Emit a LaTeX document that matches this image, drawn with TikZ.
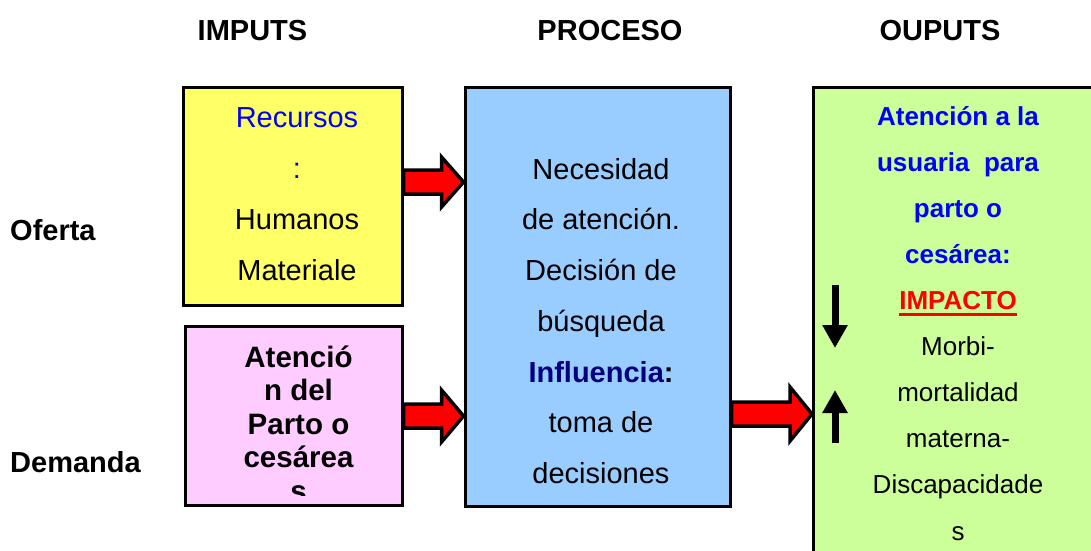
\documentclass[tikz,border=0pt]{standalone}
\usepackage{fontspec}
\setmainfont{Liberation Sans}
\usetikzlibrary{positioning, calc, arrows.meta}
\definecolor{amarillo}{HTML}{FFFF66}
\definecolor{rosa}{HTML}{FFCCFF}
\definecolor{celeste}{HTML}{99CCFF}
\definecolor{verde}{HTML}{CCFF99}
\definecolor{azul}{HTML}{0000FF}
\definecolor{marino}{HTML}{000080}
\newcommand{\subrayar}[1]{\setbox0\hbox{#1}\rlap{\rule[-6pt]{\wd0}{3pt}}\box0}
% block arrow from #1 to #2, head half width #3
\newcommand{\flecharoja}[3]{%
\draw[bloque] ($(#1)+(0,12)$) -- ($(#2)+(-22,12)$) -- ($(#2)+(-22,#3)$) -- (#2)
  -- ($(#2)+(-22,-#3)$) -- ($(#2)+(-22,-12)$) -- ($(#1)+(0,-12)$) -- cycle;}

\begin{document}
\begin{tikzpicture}[x=1pt, y=-1pt,
  caja/.style={draw, line width=3pt},
  texto/.style={anchor=north, inner sep=0pt, align=center},
  titulo/.style={font=\fontsize{29}{34}\selectfont\bfseries, inner sep=0pt},
  bloque/.style={draw, line width=3.5pt, fill=red},
  negra/.style={line width=7pt, -{Triangle[width=24pt, length=23pt]}}]
\useasboundingbox (0,0) rectangle (1091,550);

% titulos
\node[titulo, anchor=base] (imputs) at (252.5,40) {IMPUTS};
\node[titulo, anchor=base] (proceso) at (610,40) {PROCESO};
\node[titulo, anchor=base] (ouputs) at (940,40) {OUPUTS};
\node[titulo, anchor=base west] (oferta) at (10,240) {Oferta};
\node[titulo, anchor=base west] (demanda) at (10,472) {Demanda};

% cajas
\node[caja, fill=amarillo, minimum width=218.5pt, minimum height=217.5pt] (recursos) at (292.75,196.25) {};
\node[caja, fill=rosa, minimum width=217pt, minimum height=178.5pt] (parto) at (293.5,415.75) {};
\node[caja, fill=celeste, minimum width=265pt, minimum height=419pt] (necesidad) at (597.5,297) {};
\node[caja, fill=verde, minimum width=306.5pt, minimum height=492.5pt] (atencion) at (966.75,333.75) {};

\node[texto, font=\fontsize{29}{51}\selectfont] (txtrecursos) at (297,91.3)
  {\strut\textcolor{azul}{Recursos}\\\textcolor{azul}{:}\\Humanos\\Materiale};
\begin{scope}
\clip (186.5,328) rectangle (400.5,495);
\node[texto, font=\fontsize{29.5}{33.5}\selectfont\bfseries] (txtparto) at (298.5,343.5)
  {\strut Atenció\\n del\\Parto o\\cesárea\\s};
\end{scope}
\node[texto, font=\fontsize{29}{50.7}\selectfont] (txtnecesidad) at (601,143.5)
  {\strut Necesidad\\de atención.\\Decisión de\\búsqueda\\
   \textcolor{marino}{\bfseries Influencia}{\bfseries :}\\toma de\\decisiones};
\node[texto, font=\fontsize{26}{46.1}\selectfont] (txtatencion) at (958,92.7)
  {\strut\textcolor{azul}{\bfseries Atención a la}\\\textcolor{azul}{\bfseries usuaria\ \ para}\\
   \textcolor{azul}{\bfseries parto o}\\\textcolor{azul}{\bfseries cesárea:}\\
   \textcolor{red}{\bfseries\subrayar{IMPACTO}}\\Morbi-\\mortalidad\\materna-\\Discapacidade\\s};

% flechas rojas
\coordinate (f1a) at (recursos.east |- 0,182);
\coordinate (f1b) at (necesidad.west |- 0,182);
\coordinate (f2a) at (parto.east |- 0,416);
\coordinate (f2b) at (necesidad.west |- 0,416);
\coordinate (f3a) at (necesidad.east |- 0,414);
\coordinate (f3b) at (atencion.west |- 0,414);
\flecharoja{f1a}{f1b}{25}
\flecharoja{f2a}{f2b}{26}
\flecharoja{f3a}{f3b}{27}

% flechas negras
\coordinate (baja1) at (835,285);
\coordinate (baja2) at (835,348);
\coordinate (sube1) at (835,443);
\coordinate (sube2) at (835,390);
\draw[negra] (baja1) -- (baja2);
\draw[negra] (sube1) -- (sube2);
\end{tikzpicture}
\end{document}
